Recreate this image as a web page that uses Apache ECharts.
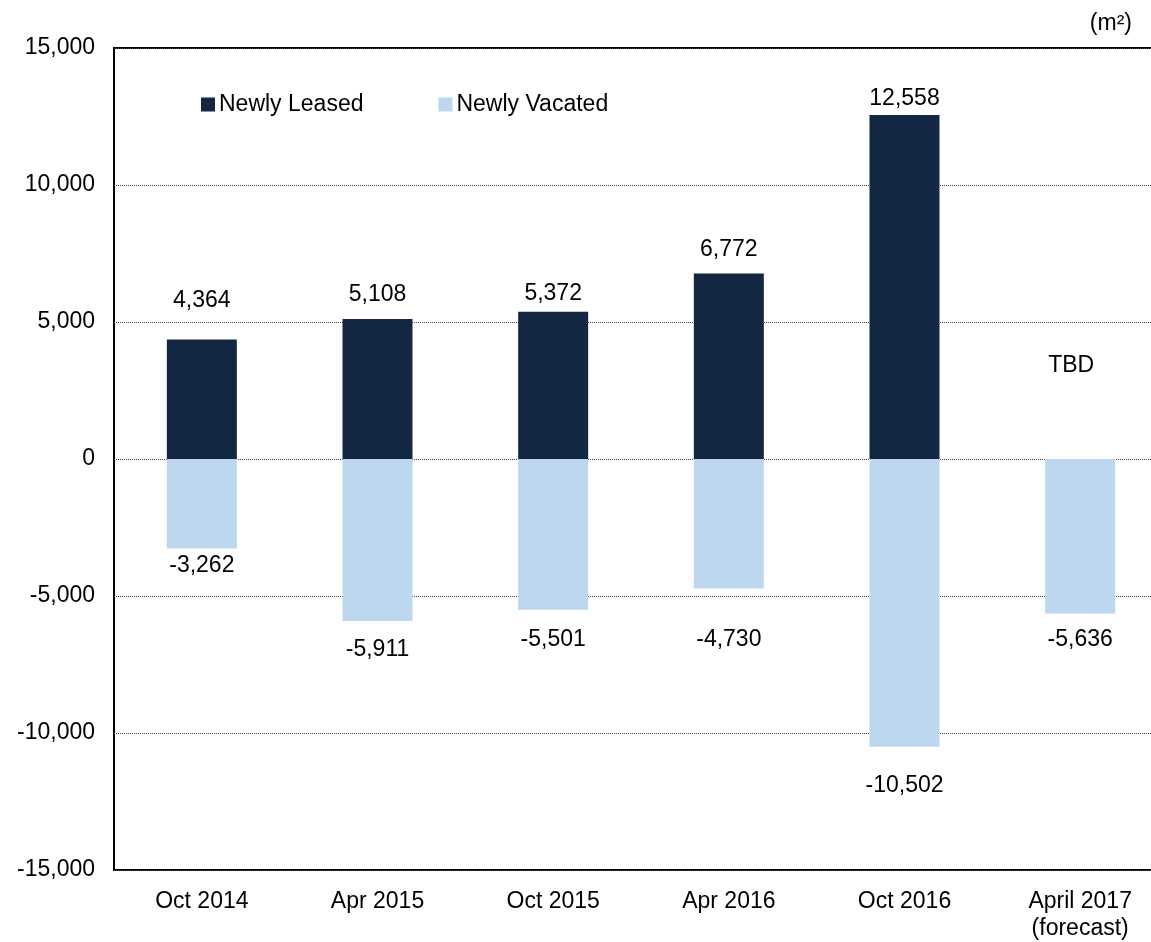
<!DOCTYPE html>
<html><head><meta charset="utf-8">
<script src="https://cdn.jsdelivr.net/npm/echarts@6/dist/echarts.min.js"></script>
<style>html,body{margin:0;padding:0;background:#fff;overflow:hidden;width:1151px;height:942px}#c{width:1168px;height:942px}</style>
</head><body><div id="c"></div>
<script>
const categories = ['Oct 2014', 'Apr 2015', 'Oct 2015', 'Apr 2016', 'Oct 2016', 'April 2017\n(forecast)'];
const newlyLeased = [4364, 5108, 5372, 6772, 12558, null];
const newlyVacated = [-3262, -5911, -5501, -4730, -10502, -5636];
const yTicks = { min: -15000, max: 15000, interval: 5000 };
const tbdText = 'TBD';
const tbdValue = 3400;
// label gaps (layout only)
const leasedGaps = [27, 13, 7, 12, 5, 0];
const vacatedGaps = [6, 17, 18, 40, 27, 15];

const font = 'Liberation Sans, Arial, sans-serif';
const fmt = v => v.toLocaleString('en-US');
const chart = echarts.init(document.getElementById('c'), null, { renderer: 'canvas' });
chart.setOption({
  animation: false,
  textStyle: { fontFamily: font },
  grid: { left: 114, right: 0, top: 48, bottom: 71, show: true, borderColor: '#000', borderWidth: 2, backgroundColor: 'transparent' },
  legend: {
    left: 196, top: 88, itemWidth: 14, itemHeight: 14, itemGap: 75, icon: 'rect',
    textStyle: { fontSize: 23, color: '#000', fontFamily: font, padding: [0, 0, 0, -1] },
    data: ['Newly Leased', 'Newly Vacated']
  },
  title: { text: '(m²)', right: 31, top: 7, textStyle: { fontSize: 23, fontWeight: 'normal', color: '#000', fontFamily: font } },
  xAxis: {
    type: 'category', data: categories,
    axisLine: { show: false }, axisTick: { show: false },
    axisLabel: { fontSize: 23, color: '#000', margin: 18, lineHeight: 27, fontFamily: font }
  },
  yAxis: {
    type: 'value', min: yTicks.min, max: yTicks.max, interval: yTicks.interval,
    axisLine: { show: false }, axisTick: { show: false },
    axisLabel: { fontSize: 23, color: '#000', margin: 19, formatter: fmt, fontFamily: font },
    splitLine: { show: true, lineStyle: { color: '#444', type: [1, 1], width: 1 } }
  },
  series: [
    {
      name: 'Newly Leased', type: 'bar', barWidth: 70, barGap: '-100%',
      itemStyle: { color: '#132742' },
      data: newlyLeased.map((v, i) => ({ value: v, label: { distance: leasedGaps[i] } })),
      label: { show: true, position: 'top', fontSize: 23, color: '#000', fontFamily: font, formatter: p => p.value == null ? '' : fmt(p.value) }
    },
    {
      name: 'Newly Vacated', type: 'bar', barWidth: 70, barGap: '-100%',
      itemStyle: { color: '#BDD7EE' },
      data: newlyVacated.map((v, i) => ({ value: v, label: { distance: vacatedGaps[i] } })),
      label: { show: true, position: 'bottom', fontSize: 23, color: '#000', fontFamily: font, formatter: p => fmt(p.value) }
    }
  ]
});
const tbdIdx = newlyLeased.findIndex(v => v == null);
const pt = chart.convertToPixel({ seriesIndex: 0 }, [tbdIdx, tbdValue]);
chart.setOption({
  graphic: [{ type: 'text', x: pt[0] - 9, y: pt[1], style: { text: tbdText, fontSize: 23, fill: '#000', fontFamily: font, align: 'center', verticalAlign: 'middle' } }]
});
</script></body></html>
